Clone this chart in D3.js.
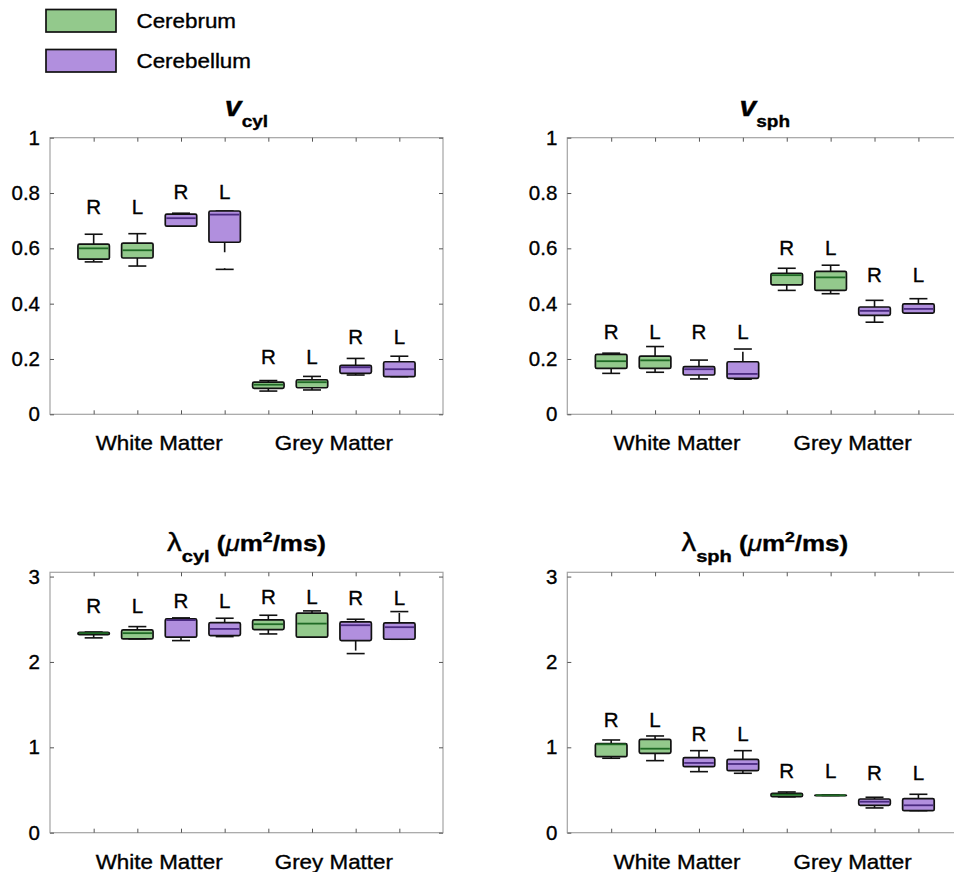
<!DOCTYPE html>
<html>
<head>
<meta charset="utf-8">
<script src="https://cdn.jsdelivr.net/npm/d3@7"></script>
<style>
  html, body { margin: 0; padding: 0; background: #fff; }
  svg { display: block; font-family: "Liberation Sans", Arial, Helvetica, sans-serif; }
  svg text { stroke: #000; stroke-width: 0.35px; }
</style>
</head>
<body>
<svg id="fig" width="954" height="872"></svg>
<script>
// Box position labels, one per box, left to right
const sides = ["R", "L", "R", "L", "R", "L", "R", "L"];
const regions = ["Cerebrum", "Cerebrum", "Cerebellum", "Cerebellum",
                 "Cerebrum", "Cerebrum", "Cerebellum", "Cerebellum"];
const tissues = ["White Matter", "Grey Matter"];
const legendItems = ["Cerebrum", "Cerebellum"];

// Five-number summaries: [lower whisker, Q1, median, Q3, upper whisker]
const vCyl = [
  [0.551, 0.561, 0.600, 0.615, 0.651],
  [0.536, 0.565, 0.593, 0.619, 0.653],
  [0.680, 0.680, 0.709, 0.724, 0.727],
  [0.524, 0.622, 0.722, 0.735, 0.735],
  [0.084, 0.094, 0.107, 0.116, 0.122],
  [0.088, 0.096, 0.116, 0.125, 0.137],
  [0.142, 0.148, 0.170, 0.177, 0.202],
  [0.136, 0.136, 0.163, 0.190, 0.210]
];
const vSph = [
  [0.148, 0.166, 0.192, 0.217, 0.221],
  [0.152, 0.166, 0.195, 0.210, 0.245],
  [0.128, 0.142, 0.163, 0.172, 0.196],
  [0.127, 0.130, 0.146, 0.190, 0.236],
  [0.448, 0.468, 0.503, 0.510, 0.528],
  [0.436, 0.448, 0.495, 0.517, 0.539],
  [0.333, 0.358, 0.374, 0.388, 0.412],
  [0.366, 0.366, 0.381, 0.399, 0.418]
];
const lamCyl = [
  [2.282, 2.320, 2.337, 2.348, 2.350],
  [2.270, 2.270, 2.337, 2.375, 2.414],
  [2.250, 2.290, 2.490, 2.504, 2.516],
  [2.297, 2.309, 2.387, 2.461, 2.512],
  [2.328, 2.379, 2.442, 2.492, 2.547],
  [2.290, 2.290, 2.449, 2.571, 2.598],
  [2.098, 2.250, 2.430, 2.469, 2.500],
  [2.266, 2.266, 2.407, 2.457, 2.590]
];
const lamSph = [
  [0.872, 0.891, 1.035, 1.043, 1.086],
  [0.844, 0.930, 0.984, 1.094, 1.133],
  [0.715, 0.773, 0.817, 0.879, 0.961],
  [0.696, 0.727, 0.805, 0.860, 0.961],
  [0.420, 0.422, 0.445, 0.461, 0.477],
  [0.436, 0.436, 0.438, 0.440, 0.442],
  [0.290, 0.321, 0.363, 0.395, 0.415],
  [0.258, 0.258, 0.321, 0.398, 0.450]
];

// Heights (in data units) of the R / L annotations above each box
const vCylLabelY = [0.724, 0.724, 0.777, 0.777, 0.182, 0.182, 0.254, 0.254];
const vSphLabelY = [0.271, 0.271, 0.271, 0.271, 0.577, 0.577, 0.479, 0.479];
const lamCylLabelY = [2.575, 2.575, 2.63, 2.63, 2.68, 2.68, 2.668, 2.668];
const lamSphLabelY = [1.235, 1.235, 1.071, 1.071, 0.637, 0.637, 0.614, 0.614];

// Axis ticks
const fracTicks = [0, 0.2, 0.4, 0.6, 0.8, 1];
const fracTickLabels = ["0", "0.2", "0.4", "0.6", "0.8", "1"];
const diffTicks = [0, 1, 2, 3];
const diffTickLabels = ["0", "1", "2", "3"];

// ---- styling ----
const fillColor = { Cerebrum: "#93c98c", Cerebellum: "#b18fde" };
const medianColor = { Cerebrum: "#1f6a25", Cerebellum: "#4a2a80" };
const SX = 1.12;          // horizontal stretch of word labels
const svg = d3.select("#fig");

function wordText(g, x, y, str, size, anchor) {
  return g.append("text")
    .attr("transform", `translate(${x},${y}) scale(${SX},1)`)
    .attr("text-anchor", anchor || "start")
    .attr("font-size", size)
    .attr("fill", "#000")
    .text(str);
}

const panels = [
  { stats: vCyl, labelY: vCylLabelY, yMax: 1, ticks: fracTicks, tickLabels: fracTickLabels,
    left: 50, top: 137.7, w: 393, h: 276.6, title: "v", sub: "cyl", kind: "frac" },
  { stats: vSph, labelY: vSphLabelY, yMax: 1, ticks: fracTicks, tickLabels: fracTickLabels,
    left: 567.3, top: 137.7, w: 395, h: 276.6, title: "v", sub: "sph", kind: "frac" },
  { stats: lamCyl, labelY: lamCylLabelY, yMax: 3.05, ticks: diffTicks, tickLabels: diffTickLabels,
    left: 50, top: 572.3, w: 393, h: 260.4, title: "λ", sub: "cyl", kind: "diff" },
  { stats: lamSph, labelY: lamSphLabelY, yMax: 3.05, ticks: diffTicks, tickLabels: diffTickLabels,
    left: 567.3, top: 572.3, w: 395, h: 260.4, title: "λ", sub: "sph", kind: "diff" }
];

panels.forEach(p => {
  const g = svg.append("g");
  const x = d3.scaleLinear().domain([0, 9]).range([p.left, p.left + p.w]);
  const y = d3.scaleLinear().domain([0, p.yMax]).range([p.top + p.h, p.top]);
  const positions = d3.range(1, 9);
  const tickLen = 4;

  // frame
  g.append("rect")
    .attr("x", x(0)).attr("y", y(p.yMax))
    .attr("width", x(9) - x(0)).attr("height", y(0) - y(p.yMax))
    .attr("fill", "none").attr("stroke", "#a3a3a3").attr("stroke-width", 1.2);

  // inward ticks on all four sides
  const axisLeft = d3.axisLeft(y).tickValues(p.ticks).tickSize(-tickLen).tickFormat("");
  const axisRight = d3.axisRight(y).tickValues(p.ticks).tickSize(-tickLen).tickFormat("");
  const axisBottom = d3.axisBottom(x).tickValues(positions).tickSize(-tickLen).tickFormat("");
  const axisTop = d3.axisTop(x).tickValues(positions).tickSize(-tickLen).tickFormat("");
  [[axisLeft, `translate(${x(0)},0)`], [axisRight, `translate(${x(9)},0)`],
   [axisBottom, `translate(0,${y(0)})`], [axisTop, `translate(0,${y(p.yMax)})`]].forEach(([ax, tr]) => {
    const a = g.append("g").attr("transform", tr).call(ax);
    a.select(".domain").remove();
    a.selectAll(".tick line").attr("stroke", "#555").attr("stroke-width", 1);
  });

  // y tick labels
  p.ticks.forEach((t, i) => {
    g.append("text")
      .attr("x", x(0) - 10).attr("y", y(t) + 7)
      .attr("text-anchor", "end").attr("font-size", 20.5).attr("fill", "#000")
      .text(p.tickLabels[i]);
  });

  // group labels below the axis
  wordText(g, (x(2) + x(3)) / 2, y(0) + 36, tissues[0], 20, "middle");
  wordText(g, (x(6) + x(7)) / 2, y(0) + 36, tissues[1], 20, "middle");

  // boxes
  const bw = x(0.72) - x(0);
  const cw = 18;
  p.stats.forEach((s, i) => {
    const cx = x(positions[i]);
    const reg = regions[i];
    const [lo, q1, med, q3, hi] = s;
    // whiskers (dashed) from box edges outward
    g.append("line").attr("x1", cx).attr("x2", cx).attr("y1", y(q3)).attr("y2", y(hi))
      .attr("stroke", "#111").attr("stroke-width", 1.6).attr("stroke-dasharray", "10,16");
    g.append("line").attr("x1", cx).attr("x2", cx).attr("y1", y(q1)).attr("y2", y(lo))
      .attr("stroke", "#111").attr("stroke-width", 1.6).attr("stroke-dasharray", "10,16");
    // caps
    [hi, lo].forEach(v => {
      g.append("line").attr("x1", cx - cw / 2).attr("x2", cx + cw / 2)
        .attr("y1", y(v)).attr("y2", y(v))
        .attr("stroke", "#111").attr("stroke-width", 1.6);
    });
    // box
    g.append("rect")
      .attr("x", cx - bw / 2).attr("y", y(q3))
      .attr("width", bw).attr("height", Math.max(y(q1) - y(q3), 0.5))
      .attr("rx", 1.5)
      .attr("fill", fillColor[reg]).attr("stroke", "#111").attr("stroke-width", 1.7);
    // median
    g.append("line").attr("x1", cx - bw / 2 + 1).attr("x2", cx + bw / 2 - 1)
      .attr("y1", y(med)).attr("y2", y(med))
      .attr("stroke", medianColor[reg]).attr("stroke-width", 1.8);
    // side label
    g.append("text")
      .attr("x", cx).attr("y", y(p.labelY[i]))
      .attr("text-anchor", "middle").attr("font-size", 20.5).attr("fill", "#000")
      .text(sides[i]);
  });

  // title
  const cxT = (x(0) + x(9)) / 2;
  if (p.kind === "frac") {
    const t = g.append("text")
      .attr("transform", `translate(${cxT},${p.top - 22}) scale(${SX},1)`)
      .attr("text-anchor", "middle").attr("font-weight", "bold").attr("fill", "#000");
    t.append("tspan").attr("font-size", 27).attr("font-style", "italic").text(p.title);
    t.append("tspan").attr("font-size", 17).attr("dy", 11).text(p.sub);
  } else {
    const t = g.append("text")
      .attr("transform", `translate(${cxT},${p.top - 21}) scale(1.18,1)`)
      .attr("text-anchor", "middle").attr("fill", "#000");
    t.append("tspan").attr("font-size", 25).text(p.title);
    t.append("tspan").attr("font-size", 17).attr("font-weight", "bold").attr("dy", 11).text(p.sub);
    t.append("tspan").attr("font-size", 22).attr("font-weight", "bold").attr("dy", -11).text(" (");
    t.append("tspan").attr("font-size", 22).attr("font-style", "italic").text("μ");
    t.append("tspan").attr("font-size", 22).attr("font-weight", "bold").text("m");
    t.append("tspan").attr("font-size", 15).attr("font-weight", "bold").attr("dy", -9).text("2");
    t.append("tspan").attr("font-size", 22).attr("font-weight", "bold").attr("dy", 9).text("/ms)");
  }
});

// legend
legendItems.forEach((name, i) => {
  const yTop = 9.5 + i * 40;
  svg.append("rect")
    .attr("x", 46).attr("y", yTop).attr("width", 70).attr("height", 22.5)
    .attr("fill", fillColor[name]).attr("stroke", "#111").attr("stroke-width", 1.7);
  wordText(svg, 136.5, yTop + 18, name, 20, "start");
});
</script>
</body>
</html>
